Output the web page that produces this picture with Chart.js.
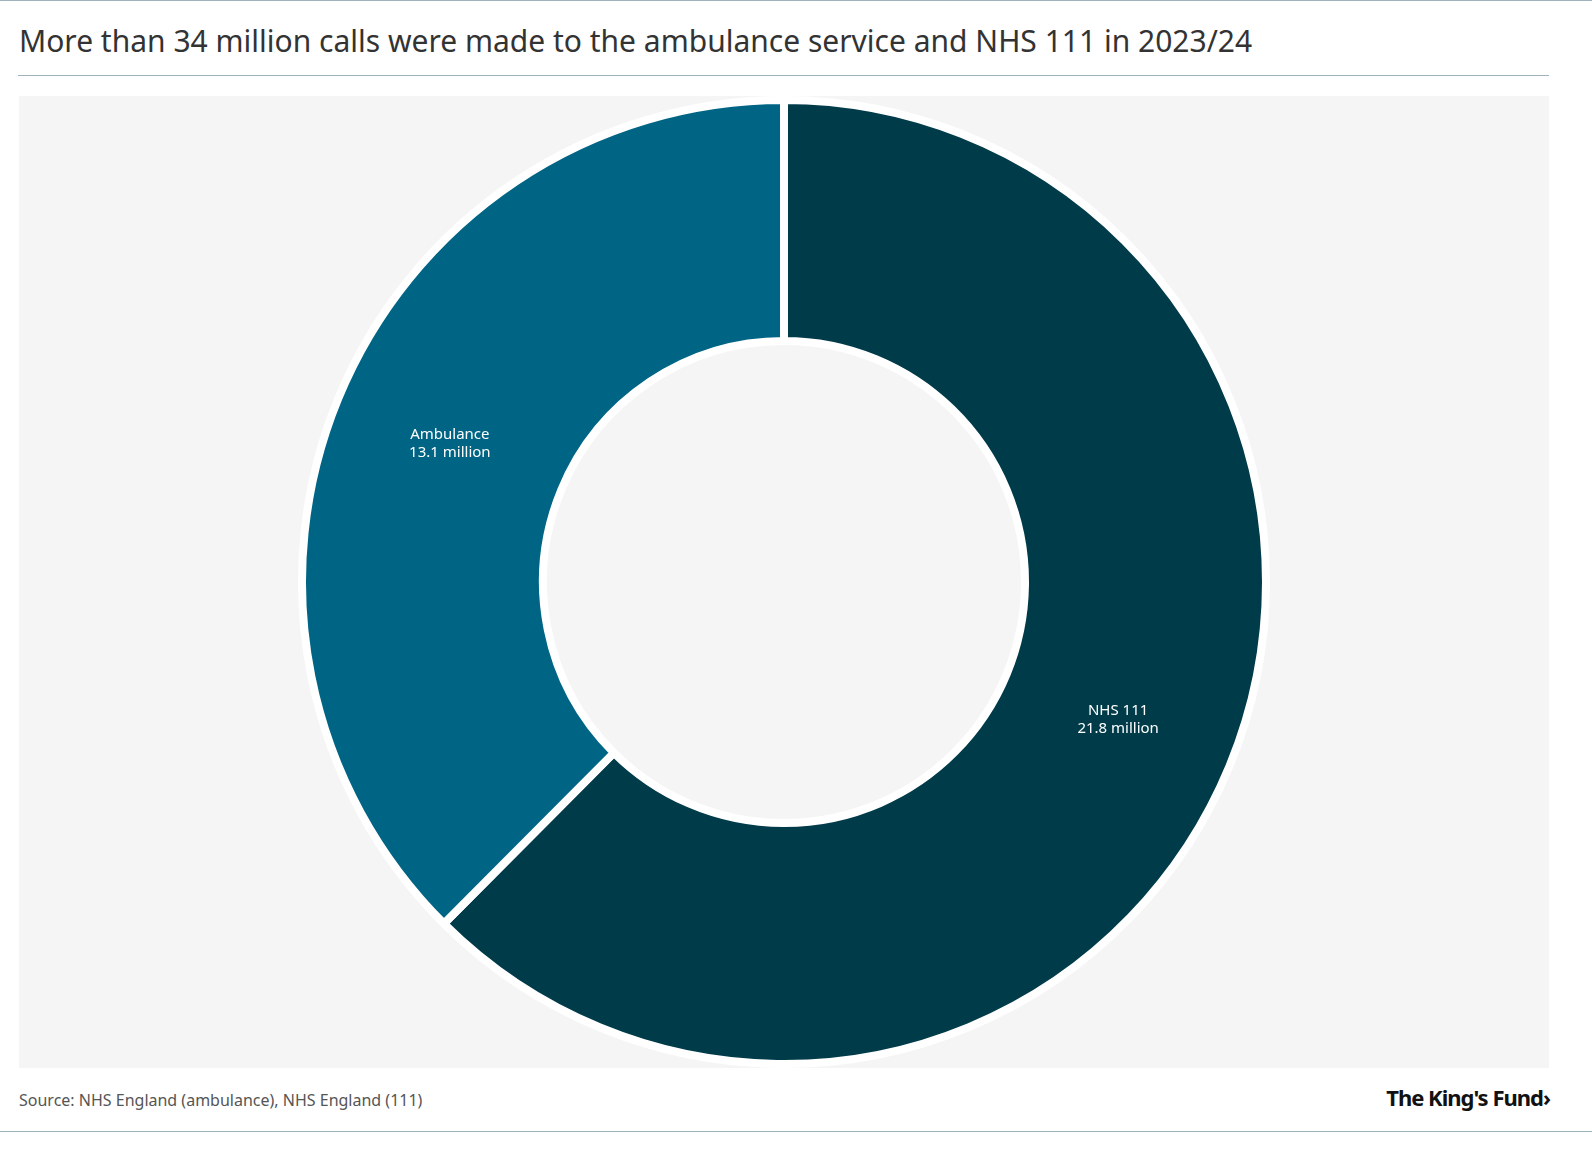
<!DOCTYPE html>
<html><head><meta charset="utf-8">
<script src="https://cdn.jsdelivr.net/npm/chart.js@4"></script>
<style>
body{margin:0;background:#fff;font-family:"Source Sans Pro","Noto Sans",Lato,sans-serif;}
#title{position:absolute;left:19px;top:20px;font-size:30px;color:#333;font-family:"Noto Sans",sans-serif;}
#rule{position:absolute;left:18px;top:75px;width:1531px;height:1px;background:#9fb3bd;}
#topb{position:absolute;left:0;top:0;width:1592px;height:1px;background:#9fb3bd;}
#wrap{position:absolute;left:19px;top:96px;width:1530px;height:972px;background:#f5f5f5;}
#src{position:absolute;left:19px;top:1089px;font-size:16px;color:#555;font-family:"Noto Sans",sans-serif;}
#logo{position:absolute;right:42px;top:1082px;font-size:22px;font-weight:bold;color:#111;letter-spacing:-1px;font-family:"Noto Sans",sans-serif;}
#botb{position:absolute;left:0;top:1131px;width:1592px;height:1px;background:#9fb3bd;}
</style></head><body>
<div id="topb"></div>
<div id="title">More than 34 million calls were made to the ambulance service and NHS 111 in 2023/24</div>
<div id="rule"></div>
<div id="wrap"><canvas id="c"></canvas></div>
<div id="src">Source: NHS England (ambulance), NHS England (111)</div>
<div id="logo">The King's Fund›</div>
<div id="botb"></div>
<script>
const categories = ["NHS 111", "Ambulance"];
const valueLabels = ["21.8 million", "13.1 million"];
const values = [21.8, 13.1];
const colors = ["#003b4a", "#006585"];
const labelPlugin = {
  id: 'sliceLabels',
  afterDatasetsDraw(chart) {
    const ctx = chart.ctx;
    chart.getDatasetMeta(0).data.forEach((arc, i) => {
      const p = arc.tooltipPosition();
      ctx.save();
      ctx.fillStyle = '#fff';
      ctx.font = '15px "Noto Sans", sans-serif';
      ctx.textAlign = 'center';
      ctx.textBaseline = 'middle';
      ctx.fillText(categories[i], p.x, p.y - 9);
      ctx.fillText(valueLabels[i], p.x, p.y + 9);
      ctx.restore();
    });
  }
};
new Chart(document.getElementById('c'), {
  type: 'doughnut',
  data: { labels: categories, datasets: [{ data: values, backgroundColor: colors, borderColor: '#ffffff', borderWidth: 8, hoverOffset: 0 }] },
  options: {
    responsive: true, maintainAspectRatio: false, animation: false,
    cutout: '50%',
    layout: { padding: 0 },
    plugins: { legend: { display: false }, tooltip: { enabled: false } }
  },
  plugins: [labelPlugin]
});
</script>
</body></html>
